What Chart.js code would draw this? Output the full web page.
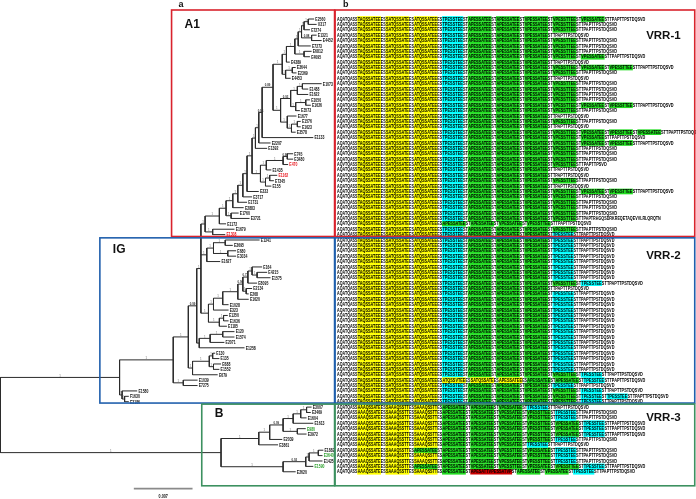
<!DOCTYPE html>
<html>
<head>
<meta charset="utf-8">
<script src="https://cdn.jsdelivr.net/npm/chart.js@4.4.1/dist/chart.umd.min.js"></script>
<style>
  html, body { margin: 0; padding: 0; background: #fff; }
  #wrap { width: 696px; height: 499px; position: relative; }
</style>
</head>
<body>
<div id="wrap"><canvas id="chart"></canvas></div>
<script>
// ---- tree: internal node = [depth (x1000 subst./site), support, ...children], leaf = [name, depth]
const a1Top = [35.5, '1',
  [35.9, '1',
    [36.2, '1', [36.7, '1', ['E2560', 37.4], ['U317', 37.7]], ['E7274', 36.9]],
    [37.1, '0.88', ['E1321', 37.7], ['E4452', 38.3]]],
  ['E7273', 37.0]];

const a1Upper = [33.6, '1',
  [34.1, '1',
    [35.1, '1', a1Top, [36.2, '1', ['E6812', 37.1], ['E4095', 36.9]]],
    ['E4389', 34.5]],
  [34.0, '1', [34.8, '1', ['E3644', 35.2], ['E2369', 35.3]], ['E4453', 34.6]]];

const a1Middle = [33.4, '1',
  [34.6, '0.93',
    [35.4, '1', [36.0, '1', ['E1073', 38.3], ['E1488', 36.7]], ['E1622', 36.7]],
    [35.2, '1', [36.4, '1', ['E1050', 36.9], ['E1626', 37.0]], ['E3573', 35.7]]],
  [34.2, '1', ['E1677', 35.3],
    [34.7, '1', [35.4, '1', ['E1576', 35.8], ['E1623', 35.8]], ['E3578', 35.2]]]];

const a1Lower = [31.0, '1',
  [31.7, '1',
    [33.7, '1', [34.2, '0.99', ['E745', 34.9], ['E3480', 34.9]], ['E470', 34.3]],
    ['E1435', 32.3]],
  [31.6, '1', [32.1, '1', ['E1162', 33.0], ['E7345', 32.6]], ['E155', 32.3]]];

const cladeA1 = [24.4, '1',
  [26.1, '1',
    [26.9, '1',
      [27.7, '1',
        [28.3, '1',
          [28.9, '1',
            [29.4, '1',
              [30.0, '1',
                [30.4, '1',
                  [30.8, '1',
                    [31.2, '0.94',
                      [32.5, '0.89', a1Upper, a1Middle],
                      ['E1133', 37.3]],
                    ['E2207', 32.2]],
                  ['E1392', 31.8]],
                a1Lower],
              ['E333', 30.8]],
            ['E3717', 30.0]],
          ['E1731', 29.4]],
        ['E2883', 29.0]],
      [27.5, '1', ['E1760', 28.4], ['E3721', 29.7]]],
    ['E1172', 26.9]],
  [25.3, '1', ['E1679', 27.9], ['E1308', 26.8]]];

const igTop = [24.6, '1',
  [25.4, '1',
    [26.8, '1', ['E1341', 30.9], ['E3695', 27.7]],
    [27.1, '1', ['E680', 28.1], ['E3034', 28.1]]],
  ['E1627', 26.2]];

const igMiddle = [24.8, '1',
  [25.4, '1',
    [26.5, '1',
      [28.3, '1',
        [28.9, '0.96',
          [29.5, '0.73',
            [30.0, '1', ['E164', 31.2], [30.6, '1', ['E4215', 31.8], ['E1575', 32.2]]],
            ['E8095', 30.6]],
          [29.3, '1', ['E2134', 30.0], ['E268', 29.6]]],
        ['E1620', 29.6]],
      ['E1028', 27.2]],
    ['E323', 27.2]],
  [26.1, '1', [26.6, '1', ['E1250', 27.1], ['E1636', 27.2]], ['E1185', 27.0]]];

const igLower = [23.7, '1',
  [25.0, '1', [26.5, '1', ['E120', 27.9], ['E1574', 27.9]], ['E2071', 26.7]],
  ['E1258', 29.1]];

const igBasal = [22.9, '1',
  [24.9, '1',
    [25.3, '1', ['E130', 25.6], ['E135', 26.1]],
    [25.4, '1', ['E688', 26.3], ['E1552', 26.1]]],
  ['E679', 25.9]];

const cladeB = [26.3, '1',
  [30.8, '1',
    [32.1, '1',
      [33.7, '0.99',
        [34.9, '1',
          [35.8, '1', [36.5, '1', ['E3007', 37.1], ['E3469', 37.0]], ['E1604', 36.5]],
          ['E1613', 37.3]],
        [35.4, '1', ['E980', 36.4], ['E3972', 36.5]]],
      ['E2039', 33.6]],
    ['E3861', 33.1]],
  [33.7, '1',
    [36.4, '0.92',
      [36.8, '1', [37.9, '1', ['E1882', 38.5], ['E3640', 38.4]], ['E1425', 38.4]],
      ['E1590', 37.3]],
    ['E2620', 35.2]]];

const tree = [0, null,
  [14.2, '1',
    [20.6, '1',
      [22.4, '1',
        [23.4, '0.99',
          [23.9, '1', cladeA1, igTop, igMiddle],
          igLower],
        igBasal],
      [21.8, '1', ['E1039', 23.5], ['E7275', 23.5]]],
    [14.5, '1', ['E1580', 16.3], [14.8, '1', ['F1630', 15.3], ['E3186', 15.3]]]],
  cladeB];

const redLeaves = ['E470', 'E1162', 'E1308'];
const greenLeaves = ['E980', 'E3640', 'E1590'];

// ---- alignment: one pattern per leaf row (Y/y yellow, C cyan, G green, R red repeat)
const alignRows = [
  'YYYCGGGGG', 'YYYCGGGG', 'YYYCGGGG', 'YYYCGGG', 'YYYCGGGG',
  'YYYCGGGG', 'YYYCGGGG', 'YYYCGGGGG', 'YYYCGGG', 'YYYCGGGGGG',
  'YYYCGGGG', 'YYYCGGG', 'YYYCGGGG', 'YYYCGGGG', 'YYYCGGGG',
  'YYYCGGGG', 'YYYCGGGGGG', 'YYYCGGGG', 'YYYCGGG', 'YYYCGGGG',
  'YYYCGGG', 'YYYCGGGGGGG', 'YYYCGGGGG', 'YYYCGGGGGG', 'YYYCGGGG',
  'YYYCGGGG', 'YYYCGGGG', 'YYYCGGGG', 'YYYCGGG', 'YYYCGGG',
  'YYYCGGGG', 'YYYCGGG', 'YYYCGGGGGG', 'YYYCGGGG', 'YYYCGGGG',
  'YYYCGGGG', 'YYYCGGGG', 'YYYCGGGG', 'YYYGGGG', 'YYYCGGGG',
  'YYYCGGGC',
  'YYYCGGGC', 'YYYCGGGC', 'YYYCGGGC', 'YYYCGGGC', 'YYYCGGGC',
  'YYYCGGGC', 'YYYCGGGC', 'YYYCGGGC', 'YYYCGGGGC', 'YYYCGGG',
  'YYYCGGGC', 'YYYCGGGC', 'YYYCGGGC', 'YYYCGGGC', 'YYYCGGGC',
  'YYYCGGGC', 'YYYCGGGC', 'YYYCGGGC', 'YYYCGGGC', 'YYYCGGGC',
  'YYYCGGGC', 'YYYCGGGC', 'YYYCGGGC', 'YYYCGGGC', 'YYYCGGGC',
  'YYYCGGGGC', 'YYYYYYGGC', 'YYYCGGGC', 'YYYCGGGGC', 'YYYCGGGGCC',
  'YYYCGGGGC',
  'yyyGGGC', 'yyyGGGGC', 'yyyGGGGC', 'yyyGGGGGC', 'yyyGGGGGC',
  'yyyGGGGGC', 'yyyGGGGC', 'yyyGGGC', 'yyGGGGGC', 'yyyGGGGC',
  'yyyGGGGC', 'yyGGGGGGC', 'yyyGRGGC'
];
const yellowTexts = ['TAQSSATEE', 'SATQSSATE', 'ATQSSATEE', 'ATQSSVTEE', 'SATQSSATE', 'APESSATEE'];
const yellowTextsB = ['AAAQSSATE', 'SAAAQSSTT', 'SAAAQSSTT'];
const greenTexts = ['APESSATEE', 'APESSATEE', 'VPESSATEE', 'VPESSTTEE', 'VPESSATEE', 'VPESSTTEE', 'VPESSATEE', 'APESSTTEE', 'VPESSATEE'];
const cyanText = 'TPESSTEE';
const redText = 'APESATTVPESSATVP';
const prefixOverride = { 27: 'AQVTQASS' };
const tailOverride = { 27: 'TPAPTTPSVD', 37: 'TPAPTRHGQSDRKREQETAQEVVLRLQRQTN' };

const clades = [
  { name: 'A1', top: -1.67, bottom: 40.35, treeFrom: 20.4, colour: '#d9232d', labelRow: 1.1, vrr: 'VRR-1', vrrRow: 3.2 },
  { name: 'IG', top: 40.6, bottom: 71.25, treeFrom: 11.85, colour: '#2160ad', labelRow: 42.8, vrr: 'VRR-2', vrrRow: 43.9 },
  { name: 'B', top: 71.45, bottom: 86.6, treeFrom: 24.0, colour: '#3d9160', labelRow: 73.3, vrr: 'VRR-3', vrrRow: 73.9 }
];
const scaleBar = { value: 7, label: '0.007', from: 15.9, row: 87.13 };

const colours = { Y: '#ffff00', C: '#00ffff', G: '#22dd22', R: '#cc0000' };

// ---- lay out the tree
const leaves = [];
const inner = [];
let nextRow = 0;
function layoutNode(node, parent) {
  if (typeof node[0] === 'string') {
    const leaf = { name: node[0], d: node[1], y: nextRow++, parent };
    leaves.push(leaf);
    return leaf;
  }
  const [d, support, ...kids] = node;
  const n = { d, support, parent };
  n.children = kids.map(k => layoutNode(k, n));
  n.y = (n.children[0].y + n.children[n.children.length - 1].y) / 2;
  inner.push(n);
  return n;
}
layoutNode(tree, null);

const branchPts = [];
inner.forEach(n => {
  const first = n.children[0], last = n.children[n.children.length - 1];
  branchPts.push({ x: n.d, y: first.y }, { x: n.d, y: last.y }, { x: null, y: null });
  n.children.forEach(c => {
    branchPts.push({ x: n.d, y: c.y }, { x: c.d, y: c.y }, { x: null, y: null });
  });
});

// ---- build alignment rows
function buildRow(r) {
  const segs = [];
  let col = 0, yi = 0, gi = 0;
  const push = (text, kind) => { segs.push({ text, kind, c0: col, c1: col + text.length }); col += text.length; };
  push(prefixOverride[r] || 'AQATQASS', null);
  for (const ch of alignRows[r]) {
    if (ch === 'Y') { push(yellowTexts[yi++], 'Y'); push('ES', null); }
    else if (ch === 'y') { push(yellowTextsB[yi++], 'Y'); push('ES', null); }
    else if (ch === 'G') { push(greenTexts[gi++], 'G'); push('ST', null); }
    else if (ch === 'C') { push(cyanText, 'C'); push('ST', null); }
    else if (ch === 'R') { push(redText, 'R'); push('ST', null); }
  }
  push(tailOverride[r] || 'TPAPTTPSTDQSVD', null);
  return segs;
}
const rowSegs = alignRows.map((_, r) => buildRow(r));

const highlights = { Y: [], C: [], G: [], R: [] };
rowSegs.forEach((segs, r) => segs.forEach(s => {
  if (s.kind) highlights[s.kind].push({ x: [s.c0, s.c1], y: r });
}));

function barSet(kind) {
  return {
    type: 'bar', data: highlights[kind], backgroundColor: colours[kind],
    xAxisID: 'xa', yAxisID: 'y', indexAxis: 'y', grouped: false,
    barThickness: 5, borderWidth: 0
  };
}

function fitText(ctx, text, x0, x1, y) {
  const w = ctx.measureText(text).width;
  ctx.save();
  ctx.translate(x0, y);
  ctx.scale((x1 - x0) / w, 1);
  ctx.fillText(text, 0, 0);
  ctx.restore();
}
function squeeze(ctx, text, x, y, sx) {
  ctx.save();
  ctx.translate(x, y);
  ctx.scale(sx, 1);
  ctx.fillText(text, 0, 0);
  ctx.restore();
}

const figureText = {
  id: 'figureText',
  afterDatasetsDraw(chart) {
    const ctx = chart.ctx;
    const xt = chart.scales.xt, xa = chart.scales.xa, ys = chart.scales.y;
    const font = (w, s) => w + ' ' + s + 'px "Liberation Sans", Arial, sans-serif';
    ctx.save();
    ctx.textBaseline = 'middle';

    // sequence letters
    ctx.fillStyle = '#000';
    ctx.textAlign = 'left';
    ctx.font = font('bold', 4.6);
    rowSegs.forEach((segs, r) => {
      const py = ys.getPixelForValue(r) + 0.3;
      segs.forEach(s => {
        const x0 = xa.getPixelForValue(s.c0), x1 = xa.getPixelForValue(s.c1);
        fitText(ctx, s.text, x0 + 0.1, x1 - 0.1, py);
      });
    });

    // leaf names
    ctx.font = font('bold', 5.6);
    leaves.forEach(l => {
      ctx.fillStyle = redLeaves.includes(l.name) ? '#e8141c'
        : greenLeaves.includes(l.name) ? '#2ca02c' : '#111';
      squeeze(ctx, l.name, xt.getPixelForValue(l.d) + 1.2, ys.getPixelForValue(l.y) + 0.3, 0.62);
    });

    // support values
    ctx.textAlign = 'center';
    ctx.font = font('bold', 3.6);
    inner.forEach(n => {
      if (!n.parent || !n.support) return;
      const x = (xt.getPixelForValue(n.parent.d) + xt.getPixelForValue(n.d)) / 2;
      ctx.fillStyle = n.support === '1' ? '#9a9a9a' : '#333';
      squeeze(ctx, n.support, x, ys.getPixelForValue(n.y) - 1.8, 0.8);
    });

    // clade boxes and labels
    const split = xa.getPixelForValue(-0.95), splitR = xa.getPixelForValue(-0.75);
    const right = xa.getPixelForValue(139.2);
    clades.forEach(c => {
      const top = ys.getPixelForValue(c.top), bottom = ys.getPixelForValue(c.bottom);
      const left = xt.getPixelForValue(c.treeFrom);
      ctx.strokeStyle = c.colour;
      ctx.lineWidth = 1.6;
      ctx.strokeRect(left, top, split - left, bottom - top);
      ctx.strokeRect(splitR, top, right - splitR, bottom - top);
      ctx.fillStyle = '#111';
      ctx.textAlign = 'left';
      ctx.font = font('bold', 12);
      ctx.fillText(c.name, left + 13, ys.getPixelForValue(c.labelRow));
      ctx.textAlign = 'center';
      ctx.font = font('bold', 11.5);
      ctx.fillText(c.vrr, xa.getPixelForValue(127), ys.getPixelForValue(c.vrrRow));
    });

    // panel letters
    ctx.textAlign = 'left';
    ctx.font = font('bold', 9);
    ctx.fillStyle = '#111';
    ctx.fillText('a', xt.getPixelForValue(clades[0].treeFrom) + 7, 5);
    ctx.fillText('b', splitR + 8, 5);

    // scale bar label
    ctx.textAlign = 'center';
    ctx.font = font('bold', 4.6);
    squeeze(ctx, scaleBar.label,
      xt.getPixelForValue(scaleBar.from + scaleBar.value / 2),
      ys.getPixelForValue(scaleBar.row + 1.5), 0.8);
    ctx.restore();
  }
};

new Chart(document.getElementById('chart'), {
  type: 'scatter',
  data: {
    datasets: [
      {
        type: 'scatter', data: branchPts, showLine: true, spanGaps: false,
        borderColor: '#2b2b2b', borderWidth: 1, pointRadius: 0,
        xAxisID: 'xt', yAxisID: 'y'
      },
      {
        type: 'scatter', showLine: true, pointRadius: 0,
        data: [{ x: scaleBar.from, y: scaleBar.row }, { x: scaleBar.from + scaleBar.value, y: scaleBar.row }],
        borderColor: '#8a8a8a', borderWidth: 1.6, xAxisID: 'xt', yAxisID: 'y'
      },
      barSet('Y'), barSet('C'), barSet('G'), barSet('R')
    ]
  },
  options: {
    responsive: true,
    maintainAspectRatio: false,
    devicePixelRatio: 1,
    animation: false,
    events: [],
    layout: { padding: 0 },
    plugins: { legend: { display: false }, tooltip: { enabled: false } },
    scales: {
      xt: { type: 'linear', axis: 'x', min: -0.06, max: 82.94, display: false, offset: false },
      xa: { type: 'linear', axis: 'x', min: -131.13, max: 139.69, display: false, offset: false },
      y: { type: 'linear', axis: 'y', min: -3.525, max: 89.05, reverse: true, display: false, offset: false }
    }
  },
  plugins: [figureText]
});
</script>
</body>
</html>
